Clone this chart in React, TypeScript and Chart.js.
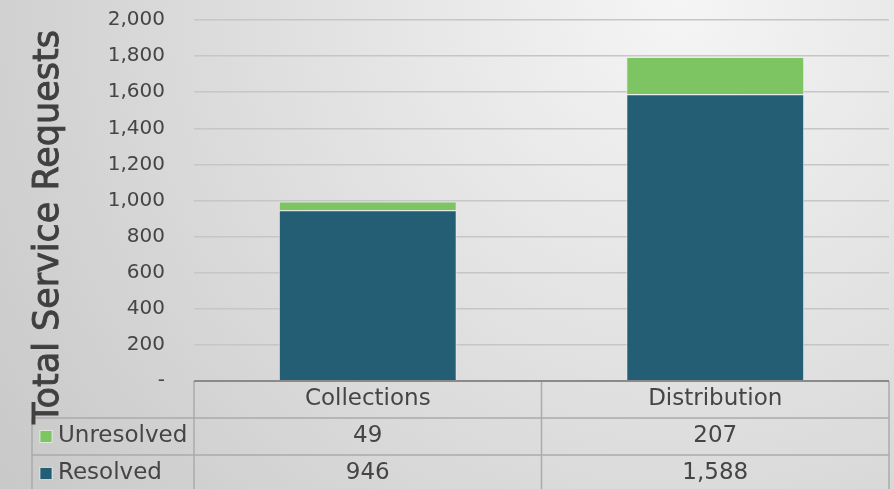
import React, { useEffect, useRef } from "react";
import { Chart, registerables } from "chart.js";

Chart.register(...registerables);

const categories = ["Collections", "Distribution"];
const seriesNames = ["Resolved", "Unresolved"];
const resolvedValues = [946, 1588];
const unresolvedValues = [49, 207];
const yTicks = [0, 200, 400, 600, 800, 1000, 1200, 1400, 1600, 1800, 2000];
const yTitle = "Total Service Requests";

const FONT = "'DejaVu Sans'";
const TEXT = "#454545";
const RESOLVED_COLOR = "#235E74";
const UNRESOLVED_COLOR = "#7DC462";

const fmt = (v: number) => (v === 0 ? "-" : v.toLocaleString("en-US"));

const bgPlugin = {
  id: "bg",
  beforeDraw(chart: any) {
    const { ctx, width, height } = chart;
    ctx.save();
    const g = ctx.createRadialGradient(680, 0, 0, 680, 0, 820);
    g.addColorStop(0, "#f5f5f5");
    g.addColorStop(1, "#c9c9c9");
    ctx.fillStyle = g;
    ctx.fillRect(0, 0, width, height);
    ctx.restore();
  },
};

const titlePlugin = {
  id: "yTitle",
  afterDraw(chart: any) {
    const { ctx } = chart;
    ctx.save();
    ctx.translate(58, 227);
    ctx.rotate(-Math.PI / 2);
    ctx.font = `35px ${FONT}`;
    ctx.textAlign = "center";
    ctx.textBaseline = "alphabetic";
    ctx.fillStyle = "#404040";
    ctx.strokeStyle = "#404040";
    ctx.lineWidth = 0.9;
    ctx.fillText(yTitle, 0, 0);
    ctx.strokeText(yTitle, 0, 0);
    ctx.restore();
  },
};

const tablePlugin = {
  id: "dataTable",
  afterDraw(chart: any) {
    const { ctx, chartArea } = chart;
    const x = chart.scales.x;
    const top = chartArea.bottom;
    const rowH = 37;
    const legendLeft = 32;
    const left = chartArea.left;
    const right = chartArea.right;
    const n = categories.length;
    const bounds: number[] = [];
    for (let i = 0; i <= n; i++) {
      if (i === 0) bounds.push(left);
      else if (i === n) bounds.push(right);
      else bounds.push((x.getPixelForValue(i - 1) + x.getPixelForValue(i)) / 2);
    }
    const bottom = top + rowH * 3 + 4;
    ctx.save();
    ctx.strokeStyle = "#ababab";
    ctx.lineWidth = 1.5;
    ctx.beginPath();
    for (let r = 1; r <= 2; r++) {
      const y = top + rowH * r;
      ctx.moveTo(legendLeft, y);
      ctx.lineTo(right, y);
    }
    ctx.moveTo(legendLeft, top + rowH);
    ctx.lineTo(legendLeft, bottom);
    for (const b of bounds) {
      ctx.moveTo(b, top);
      ctx.lineTo(b, bottom);
    }
    ctx.stroke();
    ctx.strokeStyle = "#8a8a8a";
    ctx.lineWidth = 2;
    ctx.beginPath();
    ctx.moveTo(left, top);
    ctx.lineTo(right, top);
    ctx.stroke();

    ctx.fillStyle = TEXT;
    ctx.font = `23px ${FONT}`;
    ctx.textBaseline = "middle";
    ctx.textAlign = "center";
    categories.forEach((c, i) => {
      const cx = (bounds[i] + bounds[i + 1]) / 2;
      ctx.fillText(c, cx, top + rowH / 2);
      ctx.fillText(fmt(unresolvedValues[i]), cx, top + rowH * 1.5);
      ctx.fillText(fmt(resolvedValues[i]), cx, top + rowH * 2.5);
    });
    const rows = [
      { label: seriesNames[1], color: UNRESOLVED_COLOR },
      { label: seriesNames[0], color: RESOLVED_COLOR },
    ];
    rows.forEach((r, i) => {
      const cy = top + rowH * (1.5 + i);
      ctx.fillStyle = r.color;
      ctx.fillRect(40, cy - 6, 12, 12);
      ctx.strokeStyle = "rgba(255,255,255,0.6)";
      ctx.lineWidth = 1;
      ctx.strokeRect(40, cy - 6, 12, 12);
      ctx.fillStyle = TEXT;
      ctx.textAlign = "left";
      ctx.fillText(r.label, 58, cy);
    });
    ctx.restore();
  },
};

export default function App() {
  const ref = useRef<HTMLCanvasElement | null>(null);
  useEffect(() => {
    document.body.style.margin = "0";
    const canvas = ref.current!;
    const chart = new Chart(canvas, {
      type: "bar",
      data: {
        labels: categories,
        datasets: [
          {
            label: seriesNames[0],
            data: resolvedValues,
            backgroundColor: RESOLVED_COLOR,
            borderColor: "rgba(235,240,240,0.7)",
            borderWidth: 1,
          },
          {
            label: seriesNames[1],
            data: unresolvedValues,
            backgroundColor: UNRESOLVED_COLOR,
            borderColor: "rgba(225,240,220,0.8)",
            borderWidth: 1,
          },
        ],
      },
      options: {
        animation: false,
        responsive: false,
        layout: { padding: { top: 20, right: 5, bottom: 108, left: 0 } },
        plugins: { legend: { display: false }, tooltip: { enabled: false } },
        datasets: { bar: { categoryPercentage: 1, barPercentage: 0.512 } },
        scales: {
          x: {
            stacked: true,
            display: true,
            ticks: { display: false },
            grid: { display: false, drawTicks: false },
            border: { display: false },
          },
          y: {
            stacked: true,
            min: 0,
            max: 2000,
            afterBuildTicks(scale: any) {
              scale.ticks = yTicks.map((v) => ({ value: v }));
            },
            afterFit(scale: any) {
              scale.width = 194;
              scale.paddingTop = 0;
              scale.paddingBottom = 0;
            },
            ticks: {
              padding: 29,
              color: TEXT,
              font: { family: FONT, size: 20 },
              callback: (v: any) => fmt(Number(v)),
            },
            grid: { color: "#c6c6c6", lineWidth: 1.5, drawTicks: false },
            border: { display: false },
            title: { display: false },
          },
        },
      },
      plugins: [bgPlugin, tablePlugin, titlePlugin],
    });
    return () => chart.destroy();
  }, []);
  return <canvas ref={ref} width={894} height={489} style={{ display: "block" }} />;
}
